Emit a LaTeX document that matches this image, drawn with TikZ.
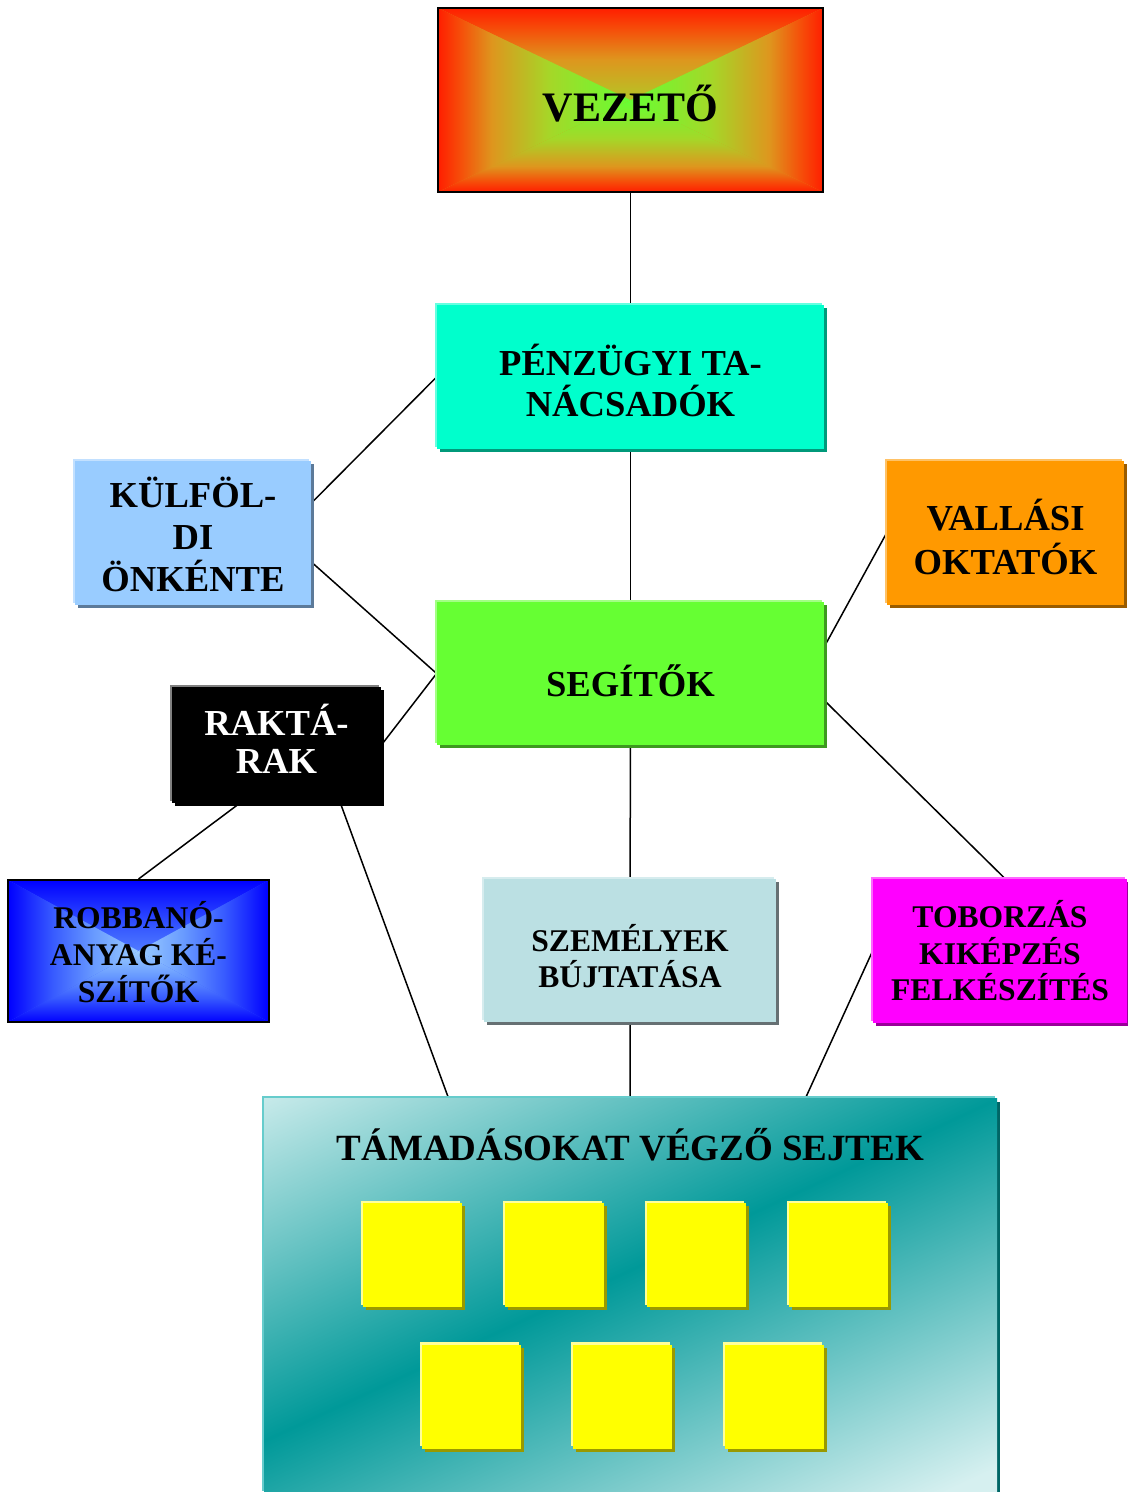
\documentclass[tikz,border=0pt]{standalone}
\usepackage{fontspec}
\setmainfont{Liberation Serif}
\usetikzlibrary{calc,shadows,backgrounds}
\definecolor{vezR}{RGB}{255,30,0}
\definecolor{vezO}{RGB}{245,80,10}
\definecolor{vezM}{RGB}{222,150,30}
\definecolor{vezY}{RGB}{165,215,40}
\definecolor{vezG}{RGB}{102,255,51}
\definecolor{penzF}{RGB}{0,255,204}
\definecolor{penzD}{RGB}{0,153,122}
\definecolor{penzL}{RGB}{102,255,224}
\definecolor{kulfF}{RGB}{153,204,255}
\definecolor{kulfD}{RGB}{92,122,153}
\definecolor{kulfL}{RGB}{194,224,255}
\definecolor{vallF}{RGB}{255,153,0}
\definecolor{vallD}{RGB}{153,92,0}
\definecolor{vallL}{RGB}{255,194,102}
\definecolor{segF}{RGB}{102,255,51}
\definecolor{segD}{RGB}{61,153,31}
\definecolor{segL}{RGB}{163,255,133}
\definecolor{szemF}{RGB}{187,224,227}
\definecolor{szemD}{RGB}{102,112,115}
\definecolor{szemL}{RGB}{214,236,238}
\definecolor{tobF}{RGB}{255,0,255}
\definecolor{tobD}{RGB}{153,0,153}
\definecolor{tobL}{RGB}{255,102,255}
\definecolor{rakL}{RGB}{128,128,128}
\definecolor{robE}{RGB}{0,0,255}
\definecolor{robO}{RGB}{55,90,255}
\definecolor{robM}{RGB}{105,155,255}
\definecolor{robC}{RGB}{155,205,255}
\definecolor{tamL}{RGB}{214,240,240}
\definecolor{tamT}{RGB}{0,153,153}
\definecolor{tamE}{RGB}{102,204,204}
\definecolor{tamD}{RGB}{0,102,102}
\definecolor{cellF}{RGB}{255,255,0}
\definecolor{cellD}{RGB}{153,153,0}
\definecolor{cellL}{RGB}{255,255,153}
\pgfdeclareverticalshading{vezshade}{100bp}{color(0bp)=(vezG); color(25bp)=(vezG); color(46bp)=(vezY); color(61bp)=(vezM); color(69bp)=(vezO); color(75bp)=(vezR); color(100bp)=(vezR)}
\pgfdeclareverticalshading{robshade}{100bp}{color(0bp)=(robC); color(25bp)=(robC); color(42bp)=(robM); color(58bp)=(robO); color(75bp)=(robE); color(100bp)=(robE)}
\pgfdeclareverticalshading{tamshade}{100bp}{color(0bp)=(tamL); color(31bp)=(tamL); color(50bp)=(tamT); color(69bp)=(tamL); color(100bp)=(tamL)}
\newcommand{\capstrut}[1]{\rule{0pt}{#1}}

\begin{document}
\begin{tikzpicture}[
	x=0.5pt, y=-0.5pt,
	bevel/.style 2 args={general shadow={fill=#1, shadow xshift=1.5pt, shadow yshift=-1.5pt},
		general shadow={fill=#2, shadow xshift=-1.2pt, shadow yshift=1.2pt}},
	centershade/.style={path picture={
		\shade[shading=#1] (path picture bounding box.north west) -- (path picture bounding box.north east) -- (path picture bounding box.center) -- cycle;
		\shade[shading=#1, shading angle=180] (path picture bounding box.south west) -- (path picture bounding box.south east) -- (path picture bounding box.center) -- cycle;
		\shade[shading=#1, shading angle=90] (path picture bounding box.north west) -- (path picture bounding box.south west) -- (path picture bounding box.center) -- cycle;
		\shade[shading=#1, shading angle=270] (path picture bounding box.north east) -- (path picture bounding box.south east) -- (path picture bounding box.center) -- cycle;
	}},
	big/.style={font=\fontsize{18.3}{#1}\selectfont\bfseries, align=center, inner sep=0pt},
	small/.style={font=\fontsize{15.8}{#1}\selectfont\bfseries, align=center, inner sep=0pt},
	cell/.style={fill=cellF, bevel={cellD}{cellL}, minimum width=49.5pt, minimum height=52pt, inner sep=0pt},
	link/.style={draw=black, line width=0.75pt},
	]
	\useasboundingbox (0,0) rectangle (1128,1492);
	
	\node [draw=black, line width=1pt, fill=vezM, minimum width=192.5pt, minimum height=92pt, centershade=vezshade,
		font=\fontsize{21}{24}\selectfont\bfseries, inner sep=0pt] (vez) at (630.5,100) {\capstrut{21.75pt}\smash{VEZETŐ}};
	\node [big=20.5pt, fill=penzF, bevel={penzD}{penzL}, minimum width=193.5pt, minimum height=72pt] (penz) at (630.5,377)
		{\capstrut{19pt}\smash{PÉNZÜGYI TA-}\\\smash{NÁCSADÓK}};
	\node [big=20.8pt, fill=kulfF, bevel={kulfD}{kulfL}, minimum width=118pt, minimum height=72pt] (kulf) at (193,533)
		{\capstrut{16.5pt}\smash{KÜLFÖL-}\\\smash{DI}\\\smash{ÖNKÉNTE}};
	\node [big=22pt, fill=vallF, bevel={vallD}{vallL}, minimum width=118.5pt, minimum height=72pt] (vall) at (1005.5,533)
		{\capstrut{19pt}\smash{VALLÁSI}\\\smash{OKTATÓK}};
	\node [big=21pt, fill=segF, bevel={segD}{segL}, minimum width=193.5pt, minimum height=71.5pt] (seg) at (630.5,673.5)
		{\capstrut{23pt}\smash{SEGÍTŐK}};
	\node [big=19.4pt, fill=black, text=white, bevel={black}{rakL}, minimum width=104.5pt, minimum height=58pt] (rak) at (276.5,745)
		{\capstrut{12pt}\smash{RAKTÁ-}\\\smash{RAK}\rule[-2.5pt]{0pt}{0pt}};
	\node [small=18.6pt, draw=black, line width=1pt, fill=robO, centershade=robshade, minimum width=130.5pt, minimum height=71pt] (rob) at (138.5,951)
		{\capstrut{14.35pt}\smash{ROBBANÓ-}\\\smash{ANYAG KÉ-}\\\smash{SZÍTŐK}};
	\node [small=18pt, fill=szemF, bevel={szemD}{szemL}, minimum width=146pt, minimum height=71.5pt] (szem) at (630,950.5)
		{\capstrut{19.35pt}\smash{SZEMÉLYEK}\\\smash{BÚJTATÁSA}};
	\node [small=18.3pt, fill=tobF, bevel={tobD}{tobL}, minimum width=127pt, minimum height=72pt] (tob) at (1000,951)
		{\capstrut{13.35pt}\smash{TOBORZÁS}\\\smash{KIKÉPZÉS}\\\smash{FELKÉSZÍTÉS}};
	
	% cells
	\coordinate (tamband) at (630,1270);
	\node [bevel={tamD}{tamE}, fill=tamL, minimum width=366.5pt, minimum height=197.5pt,
		path picture={\shade[shading=tamshade, shading angle=25] (tamband) circle (220pt);}] (tam) at (630.5,1296) {};
	\node [font=\fontsize{18.5}{21}\selectfont\bfseries, anchor=base] (tamt) at (630.5,1160) {TÁMADÁSOKAT VÉGZŐ SEJTEK};
	\node [cell] (c1) at (412.5,1255) {};
	\node [cell] (c2) at (554.5,1255) {};
	\node [cell] (c3) at (696.5,1255) {};
	\node [cell] (c4) at (838.5,1255) {};
	\node [cell] (c5) at (471.5,1396.5) {};
	\node [cell] (c6) at (622.5,1396.5) {};
	\node [cell] (c7) at (774.5,1396.5) {};
	
	\begin{pgfonlayer}{background}
	\draw [link] (vez) -- (penz);
	\draw [link] (penz) -- (seg);
	\draw [link] (seg) -- (szem);
	\draw [link] (szem) -- (tam);
	\draw [link] ($(kulf.east)+(0,-30)$) -- (penz.west);
	\draw [link] ($(kulf.east)+(0,29)$) -- (seg.west);
	\draw [link] (rak.east) -- (seg.west);
	\draw [link] (vall.west) -- ($(seg.east)+(0,-27)$);
	\draw [link] ($(seg.east)+(0,27)$) -- ($(tob.north)+(5,0)$);
	\draw [link] ($(rak.south)+(-37,0)$) -- (rob.north);
	\draw [link] ($(rak.south)+(64,0)$) -- ($(tam.north)+(-182,0)$);
	\draw [link] (tob.west) -- ($(tam.north)+(175,0)$);
	\end{pgfonlayer}
\end{tikzpicture}
\end{document}
